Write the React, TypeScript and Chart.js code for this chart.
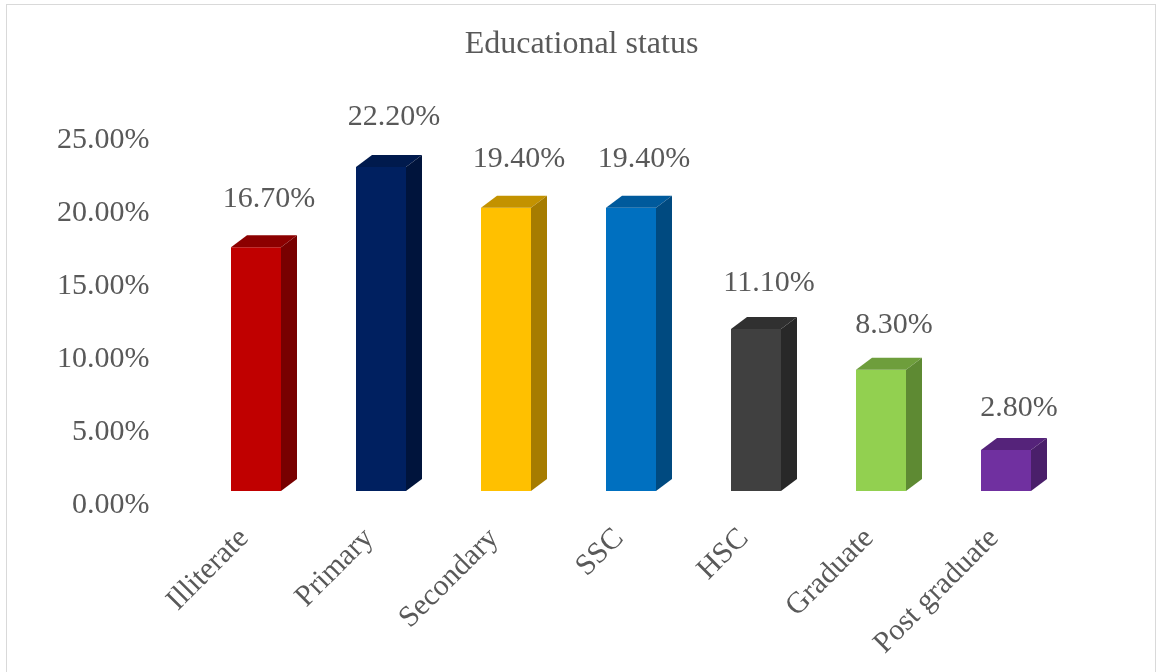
import React, { useEffect, useRef } from "react";
import { Chart, registerables } from "chart.js";

Chart.register(...registerables);

const categories = ["Illiterate", "Primary", "Secondary", "SSC", "HSC", "Graduate", "Post graduate"];
const values = [16.7, 22.2, 19.4, 19.4, 11.1, 8.3, 2.8];
const frontColors = ["#C00000", "#002060", "#FFC000", "#0070C0", "#404040", "#92D050", "#7030A0"];
const sideColors = ["#780000", "#00143C", "#A67C00", "#004A80", "#282828", "#5E8A33", "#4A1F6A"];
const topColors = ["#8C0000", "#001A4D", "#C39200", "#005A9C", "#303030", "#6E9E3C", "#55237A"];
const titleText = "Educational status";

const FONT = "'Liberation Serif', 'Times New Roman', serif";
const TEXT_COLOR = "#595959";
const DX = 16;
const DY = 12;

const bar3d = {
  id: "bar3d",
  afterDatasetsDraw(chart: any) {
    const ctx = chart.ctx;
    const meta = chart.getDatasetMeta(0);
    ctx.save();
    meta.data.forEach((bar: any, i: number) => {
      const { x, y, base, width } = bar.getProps(["x", "y", "base", "width"], true);
      const x0 = x - width / 2;
      const x1 = x + width / 2;
      ctx.fillStyle = topColors[i];
      ctx.beginPath();
      ctx.moveTo(x0, y);
      ctx.lineTo(x1, y);
      ctx.lineTo(x1 + DX, y - DY);
      ctx.lineTo(x0 + DX, y - DY);
      ctx.closePath();
      ctx.fill();
      ctx.fillStyle = sideColors[i];
      ctx.beginPath();
      ctx.moveTo(x1, y);
      ctx.lineTo(x1 + DX, y - DY);
      ctx.lineTo(x1 + DX, base - DY);
      ctx.lineTo(x1, base);
      ctx.closePath();
      ctx.fill();
      ctx.fillStyle = TEXT_COLOR;
      ctx.font = `30px ${FONT}`;
      ctx.textAlign = "center";
      ctx.textBaseline = "middle";
      const lift = 41 + 0.027 * (base - y);
      ctx.fillText(values[i].toFixed(2) + "%", x + 13, y - lift);
    });
    ctx.restore();
  },
};

const centeredTitle = {
  id: "centeredTitle",
  afterDraw(chart: any) {
    const ctx = chart.ctx;
    ctx.save();
    ctx.fillStyle = TEXT_COLOR;
    ctx.font = `32px ${FONT}`;
    ctx.textAlign = "center";
    ctx.textBaseline = "middle";
    ctx.fillText(titleText, (chart.width + 6) / 2, 45);
    ctx.restore();
  },
};

export default function App() {
  const ref = useRef<HTMLCanvasElement | null>(null);
  useEffect(() => {
    if (!ref.current) return;
    const chart = new Chart(ref.current, {
      type: "bar",
      data: {
        labels: categories,
        datasets: [
          {
            data: values,
            backgroundColor: frontColors,
            borderWidth: 0,
            barPercentage: 0.4,
            categoryPercentage: 1,
          },
        ],
      },
      options: {
        animation: false,
        responsive: false,
        devicePixelRatio: 1,
        layout: { padding: { left: 0, right: 88.5, top: 126, bottom: 0 } },
        plugins: {
          legend: { display: false },
          tooltip: { enabled: false },
          title: { display: false },
        },
        scales: {
          x: {
            grid: { display: false },
            border: { display: false },
            afterFit: (s: any) => {
              s.height = 181;
              s.paddingLeft = 0;
              s.paddingRight = 0;
            },
            ticks: {
              color: TEXT_COLOR,
              font: { family: FONT, size: 30 },
              minRotation: 45,
              maxRotation: 45,
              padding: 22,
              labelOffset: -12,
              autoSkip: false,
            },
          },
          y: {
            min: 0,
            max: 25,
            grid: { display: false },
            border: { display: false },
            afterFit: (s: any) => {
              s.width = 193.5;
              s.paddingTop = 0;
              s.paddingBottom = 0;
            },
            ticks: {
              stepSize: 5,
              color: TEXT_COLOR,
              font: { family: FONT, size: 30 },
              padding: 36,
              labelOffset: 14,
              callback: (v: any) => Number(v).toFixed(2) + "%",
            },
          },
        },
      },
      plugins: [bar3d, centeredTitle],
    });
    return () => chart.destroy();
  }, []);
  return (
    <div style={{ position: "absolute", left: 0, top: 0, width: 1157, height: 672, background: "#fff", overflow: "hidden" }}>
      <div style={{ position: "absolute", left: 6, top: 4, width: 1148, height: 700, border: "1px solid #d9d9d9" }} />
      <canvas ref={ref} width={1157} height={672} style={{ position: "absolute", left: 0, top: 0, width: 1157, height: 672 }} />
    </div>
  );
}
